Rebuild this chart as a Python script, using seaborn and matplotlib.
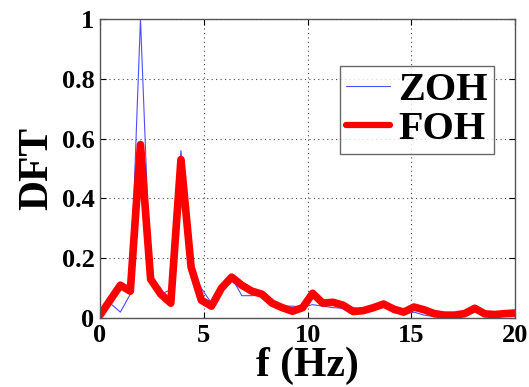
import numpy as np
import pandas as pd
import matplotlib
matplotlib.use("Agg")
import matplotlib.pyplot as plt
import seaborn as sns
from matplotlib.lines import Line2D

freq = [0.00, 0.49, 0.98, 1.46, 1.95, 2.44, 2.93, 3.41, 3.90, 4.39, 4.88, 5.37,
        5.85, 6.34, 6.83, 7.32, 7.80, 8.29, 8.78, 9.27, 9.76, 10.24, 10.73, 11.22,
        11.71, 12.20, 12.68, 13.17, 13.66, 14.15, 14.63, 15.12, 15.61, 16.10, 16.59,
        17.07, 17.56, 18.05, 18.54, 19.02, 19.51, 20.00]
zoh = [0.01, 0.05, 0.02, 0.08, 1.00, 0.12, 0.08, 0.095, 0.56, 0.17, 0.10, 0.05,
       0.10, 0.137, 0.075, 0.075, 0.077, 0.05, 0.04, 0.04, 0.037, 0.045, 0.04, 0.035,
       0.033, 0.035, 0.028, 0.033, 0.043, 0.018, 0.013, 0.02, 0.01, 0.005, 0.003,
       0.003, 0.005, 0.02, 0.008, 0.006, 0.01, 0.012]
foh = [0.01, 0.06, 0.11, 0.09, 0.58, 0.13, 0.08, 0.05, 0.53, 0.17, 0.06, 0.04,
       0.10, 0.137, 0.11, 0.09, 0.08, 0.05, 0.035, 0.023, 0.035, 0.083, 0.05, 0.053,
       0.043, 0.022, 0.025, 0.035, 0.047, 0.03, 0.02, 0.037, 0.028, 0.015, 0.01,
       0.01, 0.015, 0.033, 0.014, 0.012, 0.015, 0.017]
series_names = ["ZOH", "FOH"]
xticks = [0, 5, 10, 15, 20]
yticks = [0, 0.2, 0.4, 0.6, 0.8, 1]
ytick_labels = ["0", "0.2", "0.4", "0.6", "0.8", "1"]

df = pd.DataFrame({
    "f": freq * 2,
    "DFT": zoh + foh,
    "method": [series_names[0]] * len(freq) + [series_names[1]] * len(freq),
})

sns.set_style("ticks")
plt.rcParams['font.family'] = ['Liberation Serif', 'DejaVu Serif']
plt.rcParams['font.weight'] = 'bold'
plt.rcParams['text.color'] = 'black'
plt.rcParams['axes.labelcolor'] = 'black'
plt.rcParams['xtick.color'] = 'black'
plt.rcParams['ytick.color'] = 'black'

BLUE = "#4d4dff"
RED = "#ff0000"

fig = plt.figure(figsize=(5.29, 3.87), dpi=100)
ax = fig.add_axes([0.189, 0.178, 0.785, 0.773])

sns.lineplot(data=df, x="f", y="DFT", hue="method", size="method",
             palette={"ZOH": BLUE, "FOH": RED},
             sizes={"ZOH": 0.8, "FOH": 5.5}, ax=ax, legend=False, sort=False)

ax.set_xlim(0, 20)
ax.set_ylim(0, 1)
ax.set_xticks(xticks)
ax.set_yticks(yticks)
ax.set_xticklabels([str(t) for t in xticks], fontsize=19, fontweight='bold')
ax.set_yticklabels(ytick_labels, fontsize=19, fontweight='bold')
ax.tick_params(direction='in', top=True, right=True, length=4, width=0.8, pad=4,
               colors='black', labelcolor='black')
ax.grid(True, linestyle=(0, (1, 3)), color='#444444', linewidth=0.8)
for s in ax.spines.values():
    s.set_color('#555555')
    s.set_linewidth(1.0)
ax.set_xlabel("f (Hz)", fontsize=30, fontweight='bold', labelpad=0, color='black')
ax.set_ylabel("DFT", fontsize=30, fontweight='bold', labelpad=4, color='black')

handles = [Line2D([], [], color=BLUE, lw=0.8), Line2D([], [], color=RED, lw=4.5)]
leg = ax.legend(handles, series_names, loc='upper right', bbox_to_anchor=(0.949, 0.843),
                borderaxespad=0,
                prop={'family': 'Liberation Serif', 'weight': 'bold', 'size': 29},
                frameon=True, fancybox=False, edgecolor='#444444', handlelength=1.1,
                handletextpad=0.2, borderpad=0.15, labelspacing=0.05)
leg.get_frame().set_linewidth(1.0)
for t in leg.get_texts():
    t.set_color('black')

fig.savefig("out.png", dpi=100)
